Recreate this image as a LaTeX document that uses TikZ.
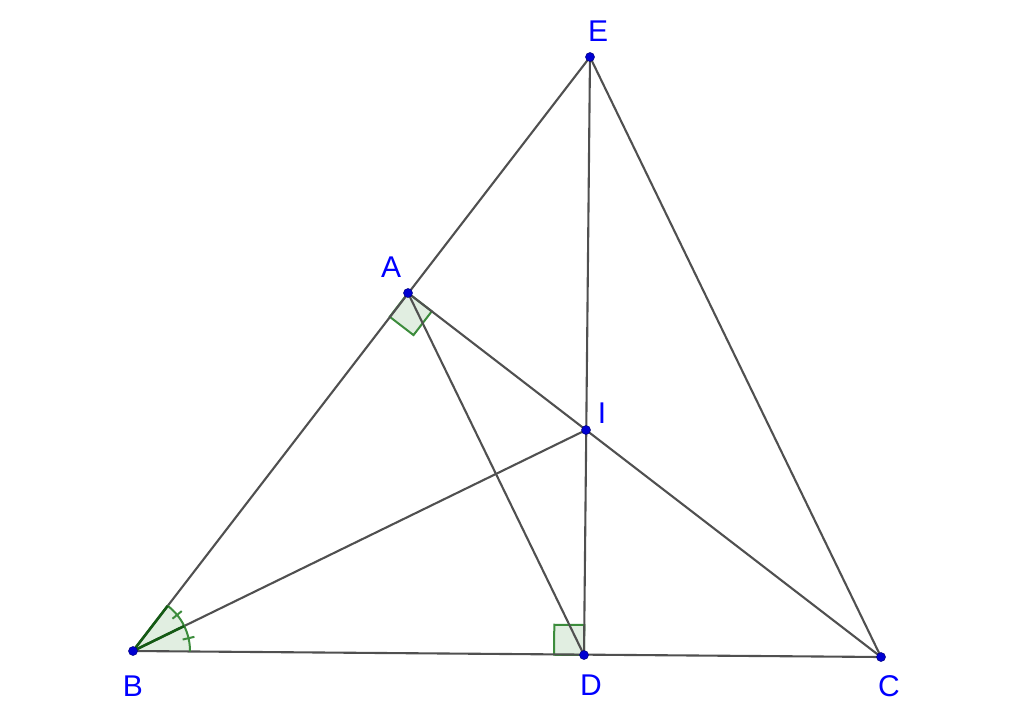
\documentclass[tikz,border=0pt]{standalone}
\usepackage{fontspec}
\setmainfont{Liberation Sans}
\usetikzlibrary{calc}
\definecolor{segc}{RGB}{80,80,80}
\definecolor{lblc}{RGB}{0,0,255}
\definecolor{ptc}{RGB}{0,0,210}
\definecolor{angc}{RGB}{60,140,60}
\definecolor{angd}{RGB}{20,90,20}
\definecolor{angf}{RGB}{225,238,225}
\begin{document}
\begin{tikzpicture}[x=1pt,y=-1pt,
  segline/.style={draw=segc,line width=2.1pt},
  anglemark/.style={draw=angc,fill=angf,line width=2pt},
  pt/.style={circle,fill=ptc,draw=ptc!60!black,line width=0.5pt,inner sep=0pt,minimum size=9pt},
  lbl/.style={text=lblc,font=\fontsize{30}{30}\selectfont,inner sep=0pt}]
\useasboundingbox (0,0) rectangle (1024,712);
\coordinate (E) at (590,57);
\coordinate (A) at (408,293);
\coordinate (I) at (586,430);
\coordinate (B) at (133,651);
\coordinate (D) at (584,655);
\coordinate (C) at (881,657);
% angle at B
\fill[angf] (B) -- ($(B)!57pt!(C)$) arc[start angle=0.46,end angle=-52.5,radius=57] -- cycle;
% right angle at A
\coordinate (a1) at ($(A)!30pt!(B)$);
\coordinate (a2) at ($(A)!30pt!(C)$);
\path[anglemark] (A) -- (a1) -- ($(a1)+(a2)-(A)$) -- (a2) -- cycle;
% right angle at D
\coordinate (d1) at ($(D)!30pt!(B)$);
\coordinate (d2) at ($(D)!30pt!(E)$);
\path[anglemark] (D) -- (d1) -- ($(d1)+(d2)-(D)$) -- (d2) -- cycle;
% segments
\draw[segline] (B) -- (E);
\draw[segline] (E) -- (C);
\draw[segline] (E) -- (D);
\draw[segline] (B) -- (C);
\draw[segline] (A) -- (C);
\draw[segline] (A) -- (D);
\draw[segline] (B) -- (I);
% angle marks at B
\draw[angc,line width=2pt] ($(B)!57pt!(C)$) arc[start angle=0.46,end angle=-52.5,radius=57];
\draw[angd,line width=2.6pt] (B) -- ($(B)!57pt!(A)$);
\draw[angd,line width=2.6pt] (B) -- ($(B)!57pt!(I)$);
\draw[angc,line width=2pt] ($(B)+(-13:51)$) -- ($(B)+(-13:63)$);
\draw[angc,line width=2pt] ($(B)+(-39.3:51)$) -- ($(B)+(-39.3:63)$);
% points
\node[pt] (nE) at (E) {};
\node[pt] (nA) at (A) {};
\node[pt] (nI) at (I) {};
\node[pt] (nB) at (B) {};
\node[pt] (nD) at (D) {};
\node[pt] (nC) at (C) {};
% labels
\node[lbl] (lE) at (598,31) {E};
\node[lbl] (lA) at (391,267) {A};
\node[lbl] (lI) at (602,413) {I};
\node[lbl] (lB) at (133,686) {B};
\node[lbl] (lD) at (591,685) {D};
\node[lbl] (lC) at (889,686) {C};
\end{tikzpicture}
\end{document}
